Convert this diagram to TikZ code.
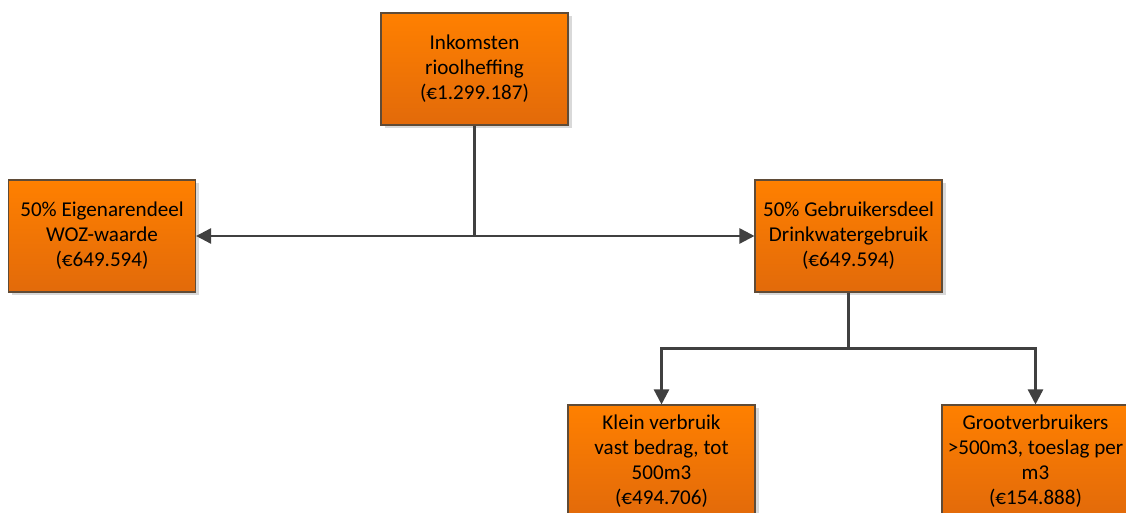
\documentclass[tikz,border=0pt]{standalone}
\usepackage{fontspec}
\setmainfont{Carlito}
\usepackage{tikz}
\usetikzlibrary{arrows.meta,shadows}

\definecolor{boxtop}{RGB}{255,128,0}
\definecolor{boxbottom}{RGB}{226,106,10}
\definecolor{boxline}{RGB}{95,75,55}
\definecolor{linkgrey}{RGB}{64,64,64}

\begin{document}
\begin{tikzpicture}[
	box/.style={draw=boxline, line width=0.6pt, top color=boxtop, bottom color=boxbottom,
		minimum width=3.74cm, minimum height=2.24cm, align=center, inner sep=0pt,
		font=\fontsize{12}{14.2}\selectfont,
		drop shadow={shadow xshift=0.07cm, shadow yshift=-0.07cm, fill=black!15, opacity=1}},
	link/.style={draw=linkgrey, line width=1.4pt},
	linkarrow/.style={link, -{Triangle[length=0.3cm, width=0.3cm]}}
	]
	\useasboundingbox (0,0) rectangle (22.52,10.26);

	% Boxes
	%Top
	\node[box] (inkomsten) at (9.49,8.88) {Inkomsten\\rioolheffing\\(€1.299.187)};
	%Middle row
	\node[box] (eigenaar) at (2.04,5.54) {50\% Eigenarendeel\\WOZ-waarde\\(€649.594)};
	\node[box] (gebruiker) at (16.97,5.54) {50\% Gebruikersdeel\\Drinkwatergebruik\\(€649.594)};
	%Bottom row
	\node[box] (klein) at (13.23,1.04) {Klein verbruik\\vast bedrag, tot\\500m3\\(€494.706)};
	\node[box] (groot) at (20.71,1.04) {Grootverbruikers\\>500m3, toeslag per\\m3\\(€154.888)};

	% Connectors
	%Split of the total
	\draw[link] (inkomsten.south) -- (inkomsten.south |- eigenaar.east) coordinate (splitA);
	\draw[linkarrow] (splitA) -- (eigenaar.east);
	\draw[linkarrow] (splitA) -- (gebruiker.west);
	%Split of the user part
	\draw[link] (gebruiker.south) -- ++(0,-1.12) coordinate (splitB);
	\draw[linkarrow] (splitB) -| (klein.north);
	\draw[linkarrow] (splitB) -| (groot.north);

\end{tikzpicture}
\end{document}
